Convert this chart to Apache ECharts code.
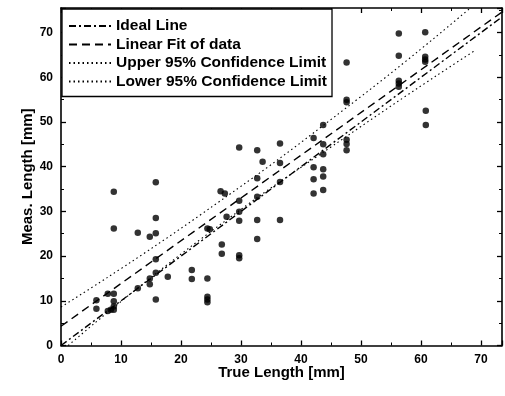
<!DOCTYPE html>
<html>
<head>
<meta charset="utf-8">
<script src="https://cdn.jsdelivr.net/npm/echarts@6/dist/echarts.min.js"></script>
<style>
  html, body { margin: 0; background: #fff; }
  #chart { width: 505px; height: 396px; }
</style>
</head>
<body>
<div id="chart"></div>
<script>
// measured points (true length, measured length) in mm
var trueLen = [
  5.9, 5.9, 7.8, 8.8, 8.8, 8.8, 8.3, 8.8, 7.8, 8.8, 8.8,
  12.8, 12.8, 14.8, 14.8, 14.8,
  15.8, 15.8, 15.8, 15.8, 15.8, 15.8, 17.8, 21.8, 21.8,
  24.4, 24.8, 24.4, 24.4, 24.4, 24.4,
  26.6, 27.3, 27.6, 26.8, 26.8,
  29.7, 29.7, 29.7, 29.7, 29.7, 29.7,
  32.7, 32.7, 32.7, 32.7, 32.7, 33.6,
  36.5, 36.5, 36.5, 36.5,
  42.1, 42.1, 42.1, 42.1,
  43.7, 43.7, 43.7, 43.7, 43.7, 43.7,
  47.6, 47.6, 47.6, 47.6, 47.6, 47.6,
  56.3, 56.3, 56.3, 56.3, 56.3,
  60.7, 60.7, 60.7, 60.7, 60.8, 60.8
];
var measLen = [
  10.1, 8.2, 11.6, 11.6, 9.9, 8.7, 8.0, 8.0, 7.7, 34.4, 26.2,
  25.2, 12.8, 24.3, 15.0, 13.7,
  36.5, 28.5, 25.1, 19.3, 16.3, 10.3, 15.4, 16.9, 14.9,
  26.2, 26.0, 15.0, 10.9, 10.3, 9.7,
  34.5, 34.0, 28.8, 22.6, 20.5,
  44.3, 32.4, 29.9, 27.9, 20.2, 19.5,
  43.7, 37.4, 33.3, 28.1, 23.8, 41.1,
  45.2, 40.8, 36.6, 28.1,
  46.4, 39.9, 37.2, 34.0,
  49.3, 45.0, 42.8, 39.4, 37.8, 34.8,
  63.3, 55.0, 54.4, 46.0, 45.1, 43.7,
  69.8, 64.8, 59.2, 58.6, 57.9,
  70.1, 64.6, 64.0, 63.5, 52.5, 49.3
];

var idealX = [0, 73.5];
var idealY = [0, 73.5];
var fitX = [0, 73.5];
var fitY = [4.3, 74.6];
var upperX = [0, 23, 50, 68.3];
var upperY = [8.6, 29, 55.7, 75.6];
var lowerX = [1.2, 23, 50, 69];
var lowerY = [0, 23.5, 49, 66];

var seriesNames = [
  "Ideal Line",
  "Linear Fit of data",
  "Upper 95% Confidence Limit",
  "Lower 95% Confidence Limit"
];

var xMax = 73.5;
var yMax = 75.5;
var font = "'Liberation Sans', Arial, sans-serif";

function pairs(xs, ys) {
  return xs.map(function (x, i) {
    return [x, ys[i]];
  });
}

function makeAxis(pos, max, showLabels, name, nameGap) {
  return {
    type: "value",
    position: pos,
    min: 0,
    max: max,
    interval: 10,
    name: showLabels ? name : "",
    nameLocation: "middle",
    nameGap: nameGap,
    nameMoveOverlap: false,
    nameTextStyle: { color: "#000", fontSize: 15, fontWeight: "bold", fontFamily: font },
    axisLine: { show: true, onZero: false, lineStyle: { color: "#000", width: 1.6 } },
    axisTick: { show: true, inside: true, length: 5, lineStyle: { color: "#000", width: 1.3 } },
    minorTick: { show: true, splitNumber: 2, length: 3, lineStyle: { color: "#000", width: 1 } },
    axisLabel: {
      show: showLabels,
      showMaxLabel: false,
      margin: 8,
      color: "#000",
      fontSize: 12,
      fontWeight: "bold",
      fontFamily: font
    },
    splitLine: { show: false }
  };
}

function lineSeries(name, xs, ys, dash, width, smooth) {
  return {
    name: name,
    type: "line",
    data: pairs(xs, ys),
    symbol: "none",
    smooth: smooth,
    xAxisIndex: 0,
    yAxisIndex: 0,
    itemStyle: { color: "#000" },
    lineStyle: { color: "#000", width: width, type: dash },
    z: 2
  };
}

var chart = echarts.init(document.getElementById("chart"));
var option = {
  animation: false,
  backgroundColor: "#fff",
  grid: { left: 61, right: 3, top: 8, bottom: 50.5 },
  xAxis: [
    makeAxis("bottom", xMax, true, "True Length [mm]", 20),
    makeAxis("top", xMax, false, "", 0)
  ],
  yAxis: [
    makeAxis("left", yMax, true, "Meas. Length [mm]", 26),
    makeAxis("right", yMax, false, "", 0)
  ],
  legend: {
    data: seriesNames,
    orient: "vertical",
    left: 62,
    top: 9,
    padding: [9, 5, 7, 6],
    itemWidth: 42,
    itemHeight: 15,
    itemGap: 2.5,
    backgroundColor: "#fff",
    borderColor: "#000",
    borderWidth: 1.3,
    borderRadius: 0,
    itemStyle: { opacity: 0 },
    textStyle: { color: "#000", fontSize: 15.5, fontWeight: "bold", fontFamily: font }
  },
  series: [
    lineSeries(seriesNames[0], idealX, idealY, [7, 3, 2, 3], 1.4, false),
    lineSeries(seriesNames[1], fitX, fitY, [8, 5], 1.4, false),
    lineSeries(seriesNames[2], upperX, upperY, [1.5, 3], 1.1, true),
    lineSeries(seriesNames[3], lowerX, lowerY, [1.5, 3], 1.1, true),
    {
      name: "data",
      type: "scatter",
      data: pairs(trueLen, measLen),
      symbol: "circle",
      symbolSize: 6.5,
      itemStyle: { color: "#000" },
      z: 3
    }
  ]
};
chart.setOption(option);
</script>
</body>
</html>
